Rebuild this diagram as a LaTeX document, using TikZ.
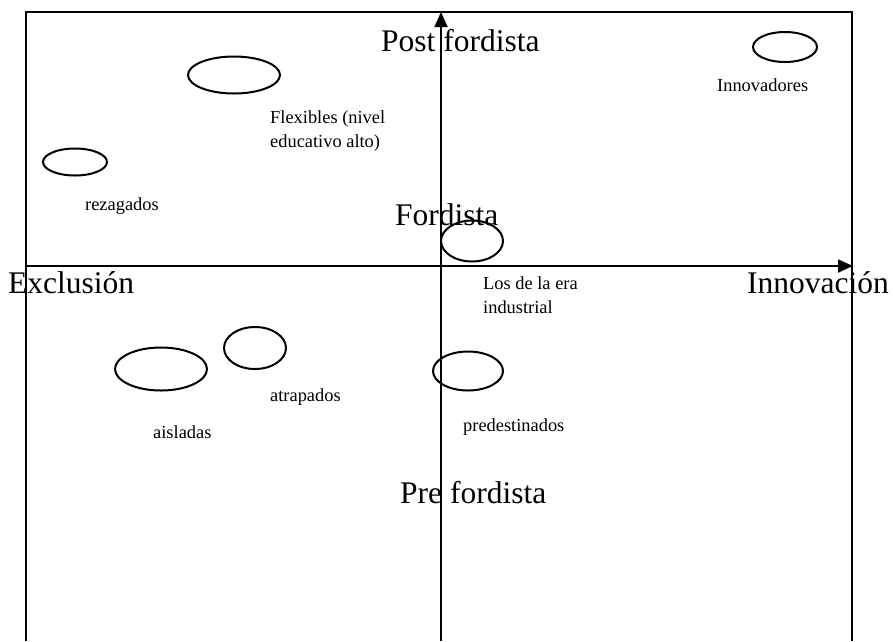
\documentclass[tikz,border=0pt]{standalone}
\usepackage{fontspec}
\setmainfont{Liberation Serif}
\usetikzlibrary{shapes.geometric,arrows.meta}
\tikzset{
    group/.style={draw,ellipse,line width=2pt,inner sep=0pt},
    biglabel/.style={anchor=base west,inner sep=0pt,font=\fontsize{31.5}{38}\selectfont},
    smalllabel/.style={anchor=base west,inner sep=0pt,align=left,font=\fontsize{18.4}{24}\selectfont},
    axis/.style={line width=1.8pt,-{Triangle[length=15pt,width=13pt]}}
}

\begin{document}
\begin{tikzpicture}[x=1pt,y=-1pt]
    \useasboundingbox (0,0) rectangle (893,641);
    % frame
    \draw[line width=1.8pt] (26,641) -- (26,12) -- (852,12) -- (852,641);

    % axes
    \coordinate (bottom) at (441,641);
    \coordinate (top) at (441,12);
    \coordinate (left) at (26,266);
    \coordinate (right) at (853,266);
    \draw[axis] (bottom) -- (top);
    \draw[axis] (left) -- (right);

    % groups
    \foreach \N/\X/\Y/\W/\H in {flex/234/75/92/37,innov/785/47/64/30,rez/75/162/64/27,ind/472/241/62/41,atr/255/348/62/42,ais/161/369/92/43,pred/468/371/70/39}
    {\node[group,minimum width=\W pt,minimum height=\H pt] (\N) at (\X,\Y) {};}

    \node[biglabel] (postf) at (381,51) {Post fordista}; %top
    \node[biglabel] (ford) at (395,225) {Fordista};
    \node[biglabel] (excl) at (8,293) {Exclusión}; %left
    \node[biglabel] (innovacion) at (747,293) {Innovación}; %right
    \node[biglabel] (pref) at (400,503) {Pre fordista}; %bottom

    \node[smalllabel] (innov-l) at (717,91) {Innovadores};
    \node[smalllabel] (flex-l) at (270,147) {Flexibles (nivel\\educativo alto)};
    \node[smalllabel] (rez-l) at (85,210) {rezagados};
    \node[smalllabel] (ind-l) at (483,313) {Los de la era\\industrial};
    \node[smalllabel] (atr-l) at (270,401) {atrapados};
    \node[smalllabel] (pred-l) at (463,431) {predestinados};
    \node[smalllabel] (ais-l) at (153,438) {aisladas};
\end{tikzpicture}
\end{document}
